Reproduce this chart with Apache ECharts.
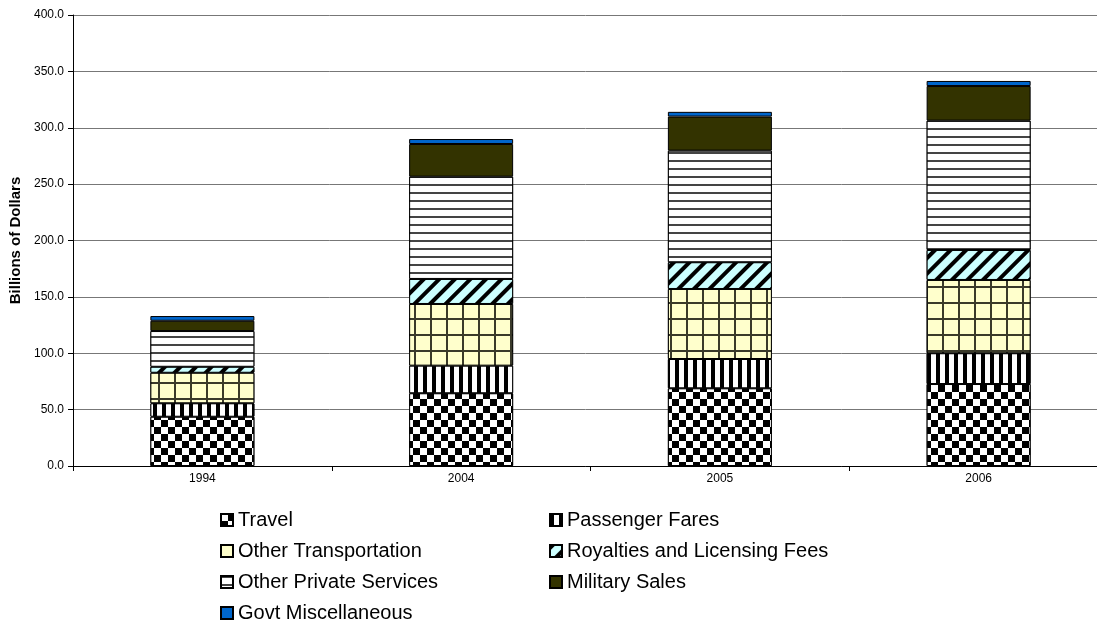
<!DOCTYPE html>
<html>
<head>
<meta charset="utf-8">
<script src="https://cdn.jsdelivr.net/npm/echarts@6/dist/echarts.min.js"></script>
<style>
  html, body { margin: 0; padding: 0; background: #fff; }
  #main { width: 1097px; height: 623px; }
</style>
</head>
<body>
<div id="main"></div>
<script>
var years = ["1994", "2004", "2005", "2006"];
var travel = [43.7, 64.5, 68.9, 72.7];
var passengerFares = [11.9, 24.5, 26.0, 27.3];
var otherTransport = [27.1, 54.7, 62.1, 65.0];
var royalties = [5.3, 22.2, 23.7, 26.6];
var otherPrivate = [31.7, 90.7, 99.0, 114.7];
var military = [9.1, 29.0, 30.2, 30.7];
var govtMisc = [4.2, 4.4, 4.2, 4.5];
var yTicks = [0, 50, 100, 150, 200, 250, 300, 350, 400];

var chart = echarts.init(document.getElementById('main'), null, { renderer: 'canvas' });

function bar(name, values, fill, decal) {
  var style = { color: fill, borderColor: '#000', borderWidth: 1 };
  if (decal) style.decal = decal;
  return {
    name: name,
    type: 'bar',
    stack: 'total',
    barWidth: 104,
    data: values,
    itemStyle: style,
    emphasis: { disabled: true }
  };
}

// patterns roughly like the old excel fills
var checker = { symbol: 'rect', symbolSize: 1, color: '#000', backgroundColor: '#fff',
  dashArrayX: [[7, 7], [0, 7, 7, 0]], dashArrayY: [7, 0] };
var vstripes = { symbol: 'rect', symbolSize: 1, color: '#000', backgroundColor: '#fff',
  dashArrayX: [3.2, 4.6], dashArrayY: [20, 0] };
var gridFill = { symbol: 'rect', symbolSize: 1, color: '#FFFFCC', backgroundColor: '#3a3a2a',
  dashArrayX: [13.7, 2], dashArrayY: [13.7, 2] };
var diag = { symbol: 'rect', symbolSize: 1, color: '#000', backgroundColor: '#CCFFFF',
  dashArrayX: [1, 0], dashArrayY: [4, 6.4], rotation: -Math.PI / 4 };
var hlines = { symbol: 'rect', symbolSize: 1, color: '#444', backgroundColor: '#fff',
  dashArrayX: [1, 0], dashArrayY: [2, 5.6] };

var legendText = { fontFamily: 'Liberation Sans, Arial', fontSize: 20, color: '#000', lineHeight: 20 };

var option = {
  animation: false,
  textStyle: { fontFamily: 'Liberation Sans, Arial' },
  // the original plot runs a bit past the right edge of the picture
  grid: { left: 73, right: -11, top: 15, bottom: 157, outerBoundsMode: 'none' },
  legend: [{
    orient: 'vertical',
    left: 220,
    top: 510,
    padding: 0,
    icon: 'rect',
    itemWidth: 12,
    itemHeight: 12,
    itemGap: 11,
    textStyle: legendText,
    data: ['Travel', 'Other Transportation', 'Other Private Services', 'Govt Miscellaneous']
  }, {
    orient: 'vertical',
    left: 549,
    top: 510,
    padding: 0,
    icon: 'rect',
    itemWidth: 12,
    itemHeight: 12,
    itemGap: 11,
    textStyle: legendText,
    data: ['Passenger Fares', 'Royalties and Licensing Fees', 'Military Sales']
  }],
  xAxis: {
    type: 'category',
    data: years,
    axisLine: { lineStyle: { color: '#000', width: 1 } },
    axisTick: { show: true, length: 5, lineStyle: { color: '#000' } },
    axisLabel: { fontSize: 12, color: '#000', margin: 7 }
  },
  yAxis: {
    type: 'value',
    min: 0,
    max: 400,
    interval: 50,
    name: 'Billions of Dollars',
    nameLocation: 'middle',
    nameGap: 50,
    nameTextStyle: { fontSize: 15, fontWeight: 'bold', color: '#000' },
    axisLine: { show: true, lineStyle: { color: '#000', width: 1 } },
    axisTick: { show: true, length: 5, lineStyle: { color: '#000' } },
    axisLabel: {
      fontSize: 12, color: '#000', margin: 9,
      formatter: function (v) { return yTicks.indexOf(v) > -1 ? v.toFixed(1) : ''; }
    },
    splitLine: { show: true, lineStyle: { color: '#777', width: 1 } }
  },
  series: [
    bar('Travel', travel, '#fff', checker),
    bar('Passenger Fares', passengerFares, '#fff', vstripes),
    bar('Other Transportation', otherTransport, '#FFFFCC', gridFill),
    bar('Royalties and Licensing Fees', royalties, '#CCFFFF', diag),
    bar('Other Private Services', otherPrivate, '#fff', hlines),
    bar('Military Sales', military, '#333300'),
    bar('Govt Miscellaneous', govtMisc, '#0066CC')
  ]
};

chart.setOption(option);
</script>
</body>
</html>
